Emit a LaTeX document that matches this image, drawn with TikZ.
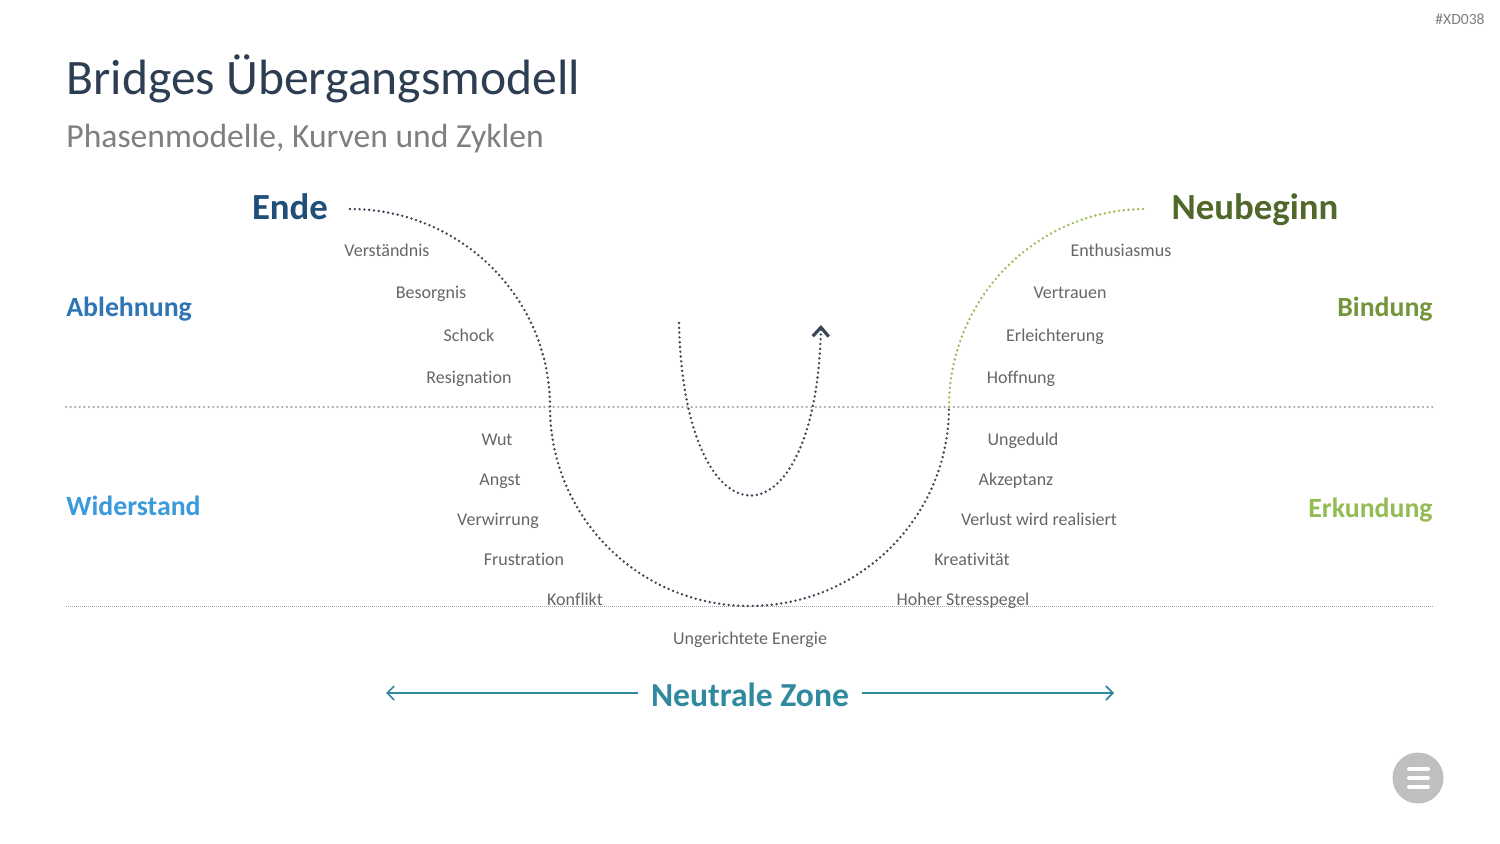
\documentclass[tikz,border=0pt]{standalone}
\usepackage{fontspec}
\setmainfont{Carlito}[Ligatures=NoCommon]
\usetikzlibrary{arrows.meta}
\definecolor{titleslate}{HTML}{2D3E52}
\definecolor{subgray}{HTML}{7F7F7F}
\definecolor{txtgray}{HTML}{666666}
\definecolor{endeblue}{HTML}{1F4E79}
\definecolor{ablblue}{HTML}{2E75B6}
\definecolor{widblue}{HTML}{3A9ADC}
\definecolor{neugreen}{HTML}{50692A}
\definecolor{bindgreen}{HTML}{73963C}
\definecolor{erkgreen}{HTML}{94BC55}
\definecolor{zoneteal}{HTML}{2F8A9D}
\definecolor{curvedark}{HTML}{3A4656}
\definecolor{curvegreen}{HTML}{9BBB59}
\definecolor{linegray}{HTML}{A6A6A6}
\definecolor{btngray}{HTML}{BFBFBF}

\tikzset{
  phase/.style={font=\fontsize{9}{11}\selectfont, text=txtgray, anchor=base, inner sep=0pt},
  stage/.style={font=\fontsize{18.4}{22}\selectfont\bfseries, anchor=base, inner sep=0pt},
  side/.style={font=\fontsize{13.9}{17}\selectfont\bfseries, inner sep=0pt},
  dotcurve/.style={line width=1.35pt, line cap=round, dash pattern=on 0pt off 2.4pt},
}

\begin{document}
\begin{tikzpicture}[x=0.5pt,y=-0.5pt]

% === Canvas (pixel grid, y downwards) ===
\useasboundingbox (0,0) rectangle (1500,844);
\fill[white] (0,0) rectangle (1500,844);

% === Header ===
\node[anchor=base east, inner sep=0pt, text=subgray, font=\fontsize{7.8}{9}\selectfont] (tag) at (1485,25) {\#XD038};
\node[anchor=base west, inner sep=0pt, text=titleslate, font=\fontsize{24.8}{30}\selectfont] (title) at (66,95) {Bridges Übergangsmodell};
\node[anchor=base west, inner sep=0pt, text=subgray, font=\fontsize{16.8}{20}\selectfont] (subtitle) at (66,148) {Phasenmodelle, Kurven und Zyklen};

% === Zone boundaries ===
\draw[linegray, line width=1.2pt, line cap=round, dash pattern=on 0pt off 2.3pt] (66,407) -- (1433,407);
\draw[linegray, line width=0.5pt, dash pattern=on 0.5pt off 0.5pt] (66,606) -- (1433,606);

% === Stage headings ===
\node[stage, text=endeblue] (ende) at (290,220) {Ende};
\node[stage, text=neugreen] (neubeginn) at (1255,220) {Neubeginn};
\node[side, anchor=base west, text=ablblue] (ablehnung) at (66,317) {Ablehnung};
\node[side, anchor=base west, text=widblue] (widerstand) at (66,516) {Widerstand};
\node[side, anchor=base east, text=bindgreen] (bindung) at (1433,317) {Bindung};
\node[side, anchor=base east, text=erkgreen] (erkundung) at (1433,517) {Erkundung};

% === Transition curve ===
\coordinate (cstart) at (350,209);
\coordinate (cleft) at (550,407);
\coordinate (cright) at (949,407);
\coordinate (cend) at (1146,209);
\draw[curvedark, dotcurve] (cstart) arc[start angle=-90, end angle=0, x radius=200, y radius=198]
  arc[start angle=180, end angle=0, x radius=199.5, y radius=199];
\draw[curvegreen, dotcurve] (cright) arc[start angle=180, end angle=270, x radius=197, y radius=198];

% === Inner turn ===
\coordinate (ustart) at (679,323);
\coordinate (uend) at (821,325);
\draw[curvedark, dotcurve, -{Straight Barb[length=4.5pt,width=8pt,line width=1.6pt]}]
  (ustart) .. controls (684,552) and (816,552) .. (uend);

% === Phase labels, left ===
\node[phase] (verst) at (387,257) {Verständnis};
\node[phase] (besorg) at (431,299) {Besorgnis};
\node[phase] (schock) at (469,342) {Schock};
\node[phase] (resign) at (469,384) {Resignation};
\node[phase] (wut) at (497,446) {Wut};
\node[phase] (angst) at (500,486) {Angst};
\node[phase] (verwirr) at (498,526) {Verwirrung};
\node[phase] (frust) at (524,566) {Frustration};
\node[phase] (konflikt) at (575,605) {Konflikt};

% === Phase labels, right ===
\node[phase] (enthus) at (1121,257) {Enthusiasmus};
\node[phase] (vertrauen) at (1070,299) {Vertrauen};
\node[phase] (erleicht) at (1055,342) {Erleichterung};
\node[phase] (hoffnung) at (1021,384) {Hoffnung};
\node[phase] (ungeduld) at (1023,446) {Ungeduld};
\node[phase] (akzeptanz) at (1016,486) {Akzeptanz};
\node[phase] (verlust) at (1039,526) {Verlust wird realisiert};
\node[phase] (kreativ) at (972,566) {Kreativität};
\node[phase] (stress) at (963,605) {Hoher Stresspegel};

\node[phase] (energie) at (750,645) {Ungerichtete Energie};

% === Neutral zone ===
\node[anchor=base, inner sep=0pt, text=zoneteal, font=\fontsize{16.8}{20}\selectfont\bfseries] (zone) at (750,706) {Neutrale Zone};
\coordinate (zleft) at (386,693);
\coordinate (zright) at (1114,693);
\draw[zoneteal, line width=0.8pt, -{Straight Barb[length=3.5pt,width=7pt]}] (zone.west |- zleft) ++(-13,0) -- (zleft);
\draw[zoneteal, line width=0.8pt, -{Straight Barb[length=3.5pt,width=7pt]}] (zone.east |- zright) ++(13,0) -- (zright);

% === Menu button ===
\fill[btngray] (1418,778) circle[radius=25.5];
\foreach \yy in {769,778,787}
  \draw[white, line width=2pt, line cap=round] (1409,\yy) -- (1428,\yy);

\end{tikzpicture}
\end{document}
